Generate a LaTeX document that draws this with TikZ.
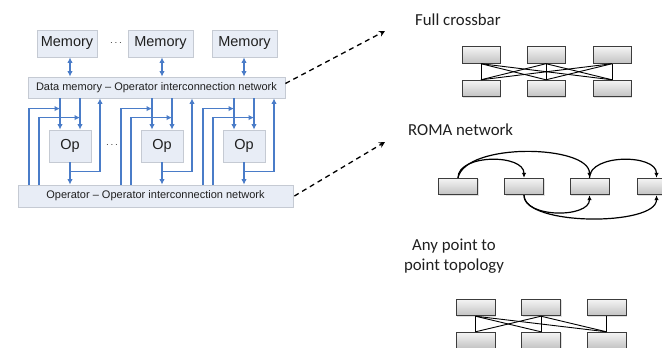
\documentclass[tikz,border=0pt]{standalone}
\usepackage{fontspec}
\setmainfont{Liberation Sans}
\newfontfamily\carl{Carlito}
\usetikzlibrary{arrows.meta,shadows,calc}
\definecolor{wire}{HTML}{4A7CC8}
\definecolor{lfill}{HTML}{E8EDF6}
\definecolor{ldraw}{HTML}{C5CAD3}
\definecolor{gdraw}{HTML}{3C3C3C}
\definecolor{gtop}{HTML}{F4F4F4}
\definecolor{gbot}{HTML}{C2C2C2}
\definecolor{ltext}{HTML}{202020}
\begin{document}
\begin{tikzpicture}[x=1pt,y=-1pt,
  lbox/.style={draw=ldraw,fill=lfill,line width=0.8pt,inner sep=0pt,text=ltext},
  bigtext/.style={font=\fontsize{14.5}{17}\selectfont},
  nettext/.style={font=\fontsize{11}{13}\selectfont},
  membox/.style={lbox,bigtext,minimum height=27pt},
  opbox/.style={lbox,bigtext,minimum width=42pt,minimum height=32pt},
  bw/.style={draw=wire,line width=1.4pt,-{Latex[length=5.5pt,width=5.5pt]}},
  bwd/.style={draw=wire,line width=1.4pt,{Latex[length=5.5pt,width=5.5pt]}-{Latex[length=5.5pt,width=5.5pt]}},
  gbox/.style={draw=gdraw,line width=0.9pt,top color=gtop,bottom color=gbot,
    minimum width=38pt,minimum height=16.5pt,inner sep=0pt,
    drop shadow={shadow xshift=1pt,shadow yshift=-1pt,opacity=0.25}},
  tline/.style={draw=black,line width=0.9pt},
  rarc/.style={draw=black,line width=1.2pt,-{Latex[length=5pt,width=4.5pt]}},
  dasharrow/.style={draw=black,line width=1.3pt,dash pattern=on 5pt off 4pt,-{Stealth[length=6pt,width=6pt]}},
  rlabel/.style={font=\carl\fontsize{16.8}{20}\selectfont,text=black!88,inner sep=0pt}
]
\useasboundingbox (0,0) rectangle (662,348);

% ---------- left architecture ----------
\node[membox,minimum width=60pt] (m1) at (67,43.5) {Memory};
\node[membox,minimum width=65pt] (m2) at (160.5,43.5) {Memory};
\node[membox,minimum width=65pt] (m3) at (244.5,43.5) {Memory};
\node[text=ltext,inner sep=0pt] (d1) at (116,43) {$\cdots$};

\node[lbox,nettext,minimum width=257pt,minimum height=21pt] (dm) at (156.5,87.5) {Data memory -- Operator interconnection network};

\node[opbox] (op1) at (70,146) {Op};
\node[opbox] (op2) at (162,146) {Op};
\node[opbox] (op3) at (244,146) {Op};
\node[text=ltext,inner sep=0pt] (d2) at (112,145) {$\cdots$};

\node[lbox,nettext,minimum width=275pt,minimum height=22pt] (oo) at (155.5,196) {Operator -- Operator interconnection network};

\draw[bwd] (op1.north |- m1.south) -- (op1.north |- dm.north);
\draw[bwd] (op2.north |- m2.south) -- (op2.north |- dm.north);
\draw[bwd] (op3.north |- m3.south) -- (op3.north |- dm.north);

\foreach \o in {op1,op2,op3}{
  % data memory -> op
  \draw[bw] ([xshift=-10pt]\o.north |- dm.south) -- ([xshift=-10pt]\o.north);
  \draw[bw] ([xshift=10pt]\o.north |- dm.south) -- ([xshift=10pt]\o.north);
  % op -> operator network
  \draw[bw] (\o.south) -- (\o.south |- oo.north);
  % op -> data memory
  \draw[bw] ([yshift=-9pt]\o.south) -| ([xshift=30pt]\o.north |- dm.south);
  % operator network feedback
  \draw[bw] ([xshift=-41pt]\o.south |- oo.north) |- ([xshift=-10pt,yshift=21pt]\o.north);
  \draw[bw] ([xshift=-31pt]\o.south |- oo.north) |- ([xshift=10pt,yshift=12pt]\o.north);
}

% ---------- dashed arrows ----------
\coordinate (t1) at (385,31);
\coordinate (t2) at (385,142);
\draw[dasharrow] ([yshift=4pt]dm.east) -- (t1);
\draw[dasharrow] ([xshift=1pt]oo.east) -- (t2);

% ---------- full crossbar ----------
\node[rlabel,anchor=base west] (lab1) at (415,25) {Full crossbar};
\node[gbox] (a1) at (481,55) {};
\node[gbox] (a2) at (546,55) {};
\node[gbox] (a3) at (612,55) {};
\node[gbox] (b1) at (481,88.5) {};
\node[gbox] (b2) at (546,88.5) {};
\node[gbox] (b3) at (612,88.5) {};
\foreach \t in {a1,a2,a3}{
  \foreach \b in {b1,b2,b3}{
    \draw[tline] (\t.south) -- (\b.north);
  }
}

% ---------- ROMA network ----------
\node[rlabel,anchor=base west] (lab2) at (408,135) {ROMA network};
\node[gbox,minimum width=39pt] (r1) at (458,186.5) {};
\node[gbox,minimum width=39pt] (r2) at (524,186.5) {};
\node[gbox,minimum width=39pt] (r3) at (589.5,186.5) {};
\node[gbox,minimum width=39pt] (r4) at (656.5,186.5) {};
\draw[rarc] (r1.north) .. controls +(0,-24) and +(0,-24) .. (r2.north);
\draw[rarc] (r1.north) .. controls +(8,-36) and +(0,-33) .. (r3.north);
\draw[rarc] (r3.north) .. controls +(0,-24) and +(0,-24) .. (r4.north);
\draw[rarc] (r2.south) .. controls +(0,23) and +(0,23) .. (r3.south);
\draw[rarc] (r2.south) .. controls +(0,31) and +(0,31) .. (r4.south);

% ---------- any point to point ----------
\node[rlabel,align=center] (lab3) at (454,256) {Any point to\\point topology};
\node[gbox,minimum width=39pt] (p1) at (475.5,307.5) {};
\node[gbox,minimum width=39pt] (p2) at (541,307.5) {};
\node[gbox,minimum width=39pt] (p3) at (606.5,307.5) {};
\node[gbox,minimum width=39pt] (q1) at (475.5,340.5) {};
\node[gbox,minimum width=39pt] (q2) at (541,340.5) {};
\node[gbox,minimum width=39pt] (q3) at (606.5,340.5) {};
\draw[tline] (p1.south) -- (q1.north);
\draw[tline] (p1.south) -- (q2.north);
\draw[tline] (p1.south) -- (q3.north);
\draw[tline] (p2.south) -- (q1.north);
\draw[tline] (p2.south) -- (q2.north);
\draw[tline] (p2.south) -- (q3.north);
\draw[tline] (p3.south) -- (q3.north);
\end{tikzpicture}
\end{document}
